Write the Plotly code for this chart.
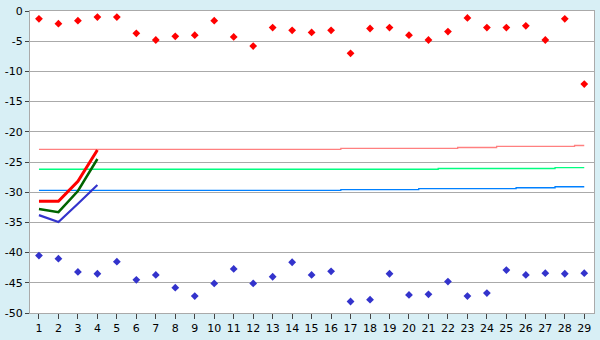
import plotly.graph_objects as go

categories = list(range(1, 30))

red_points = [-1.3, -2.1, -1.6, -1.0, -1.0, -3.7, -4.8, -4.2, -4.0, -1.6,
              -4.3, -5.8, -2.75, -3.2, -3.55, -3.2, -7.0, -2.9, -2.75, -4.0,
              -4.8, -3.4, -1.15, -2.75, -2.75, -2.45, -4.8, -1.3, -12.1]

blue_points = [-40.5, -41.0, -43.2, -43.5, -41.5, -44.5, -43.7, -45.8, -47.2, -45.1,
               -42.7, -45.1, -44.0, -41.6, -43.7, -43.1, -48.1, -47.8, -43.5, -47.0,
               -46.9, -44.8, -47.2, -46.7, -42.9, -43.7, -43.4, -43.5, -43.4]

short_x = [1, 2, 3, 4]
red_line = [-31.5, -31.5, -28.2, -23.0]
green_line = [-32.8, -33.3, -29.8, -24.5]
blue_line = [-33.8, -34.95, -31.9, -28.8]

pink_step = [-22.9] * 16 + [-22.75] * 6 + [-22.6] * 2 + [-22.42] * 4 + [-22.27]
green_step = [-26.2] * 21 + [-26.08] * 6 + [-25.92] * 2
blue_step = [-29.7] * 16 + [-29.57] * 4 + [-29.42] * 5 + [-29.26] * 2 + [-29.1] * 2

y_ticks = list(range(-50, 1, 5))

fig = go.Figure()

for vals, col in [(pink_step, "#ff8080"), (green_step, "#00ff80"), (blue_step, "#0080ff")]:
    fig.add_trace(go.Scatter(x=categories, y=vals, mode="lines",
                             line=dict(color=col, width=1.3, shape="hvh"),
                             hoverinfo="skip"))

for vals, col, w in [(blue_line, "#3333cc", 2.2), (green_line, "#006400", 2.5), (red_line, "#ff0000", 3)]:
    fig.add_trace(go.Scatter(x=short_x, y=vals, mode="lines",
                             line=dict(color=col, width=w)))

fig.add_trace(go.Scatter(x=categories, y=red_points, mode="markers",
                         marker=dict(symbol="diamond", size=6, color="#ff0000")))
fig.add_trace(go.Scatter(x=categories, y=blue_points, mode="markers",
                         marker=dict(symbol="diamond", size=6, color="#3333cc")))

fig.update_layout(
    width=600, height=340,
    margin=dict(l=26, r=5, t=5, b=20),
    paper_bgcolor="#d8eff5",
    plot_bgcolor="#ffffff",
    showlegend=False,
    font=dict(family="DejaVu Sans", size=11, color="#000000"),
)
fig.update_xaxes(range=[0.54, 29.5], tickmode="array", tickvals=categories,
                 ticktext=[str(c) for c in categories],
                 showgrid=False, zeroline=False, showline=True, linecolor="#aaaaaa",
                 linewidth=1, mirror=True, ticks="outside", ticklen=5, tickcolor="#444444",
                 tickfont=dict(size=11), ticklabeloverflow="allow")
fig.update_yaxes(range=[-50, 0], tickmode="array", tickvals=y_ticks,
                 ticktext=[str(v) for v in y_ticks],
                 showgrid=True, gridcolor="#aaaaaa", gridwidth=1, zeroline=False,
                 showline=True, linecolor="#aaaaaa", linewidth=1, mirror=True,
                 ticks="outside", ticklen=4, tickcolor="#444444", tickfont=dict(size=11),
                 ticklabeloverflow="allow")

fig.write_html("out.html")
